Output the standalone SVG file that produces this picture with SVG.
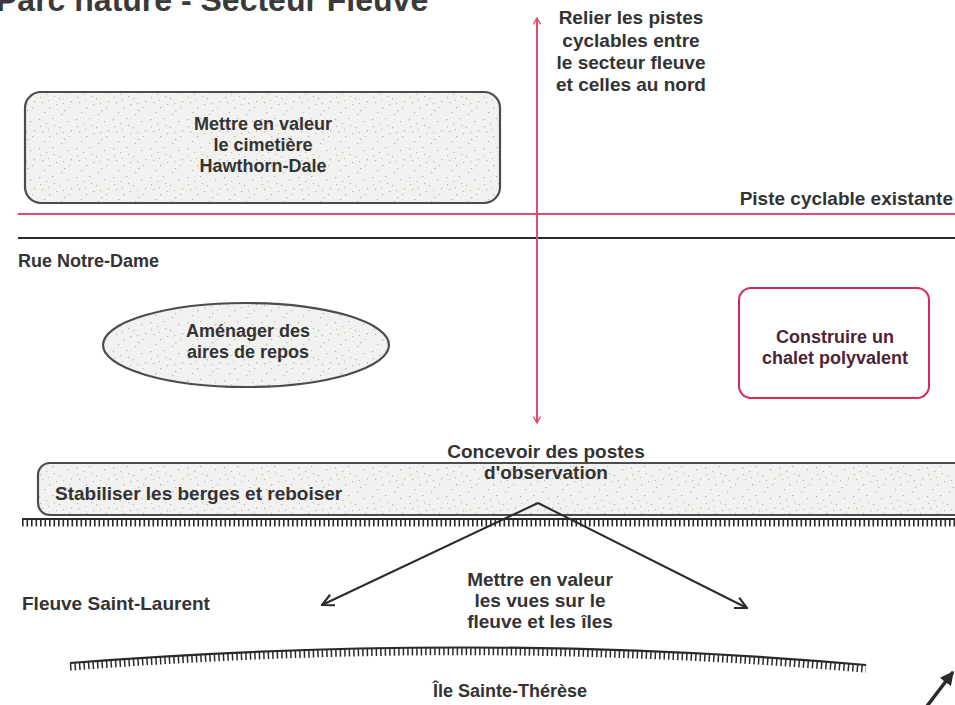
<svg xmlns="http://www.w3.org/2000/svg" width="955" height="705" viewBox="0 0 955 705">
<style>
text{font-family:"Liberation Sans",Arial,sans-serif;font-weight:bold;fill:#333;}
.t18{font-size:18px;}
.t19{font-size:19px;}
.mid{text-anchor:middle;}
.box{fill:url(#speck);stroke:#4a4d4a;stroke-width:2.2;}
.red{stroke:#e64a6e;stroke-width:2;fill:none;}
.blk{stroke:#2a2a2a;fill:none;}
</style>
<defs>
<pattern id="speck" width="37" height="29" patternUnits="userSpaceOnUse">
<rect width="37" height="29" fill="#f1f1ef"/>
<g fill="#b8b8b4">
<rect x="2" y="3" width="1.3" height="1.3"/><rect x="9" y="7" width="1.2" height="1"/><rect x="15" y="2" width="1.4" height="1.1"/>
<rect x="22" y="11" width="1.1" height="1.3"/><rect x="30" y="5" width="1.3" height="1.1"/><rect x="5" y="15" width="1.2" height="1.2"/>
<rect x="12" y="20" width="1.3" height="1.3"/><rect x="19" y="17" width="1.2" height="1.1"/><rect x="27" y="23" width="1.4" height="1.1"/>
<rect x="34" y="14" width="1.1" height="1.4"/><rect x="7" y="25" width="1.3" height="1.1"/><rect x="24" y="27" width="1.2" height="1.1"/>
<rect x="32" y="20" width="1.1" height="1.1"/><rect x="17" y="9" width="1.1" height="1.1"/><rect x="3" y="10" width="1.1" height="1.1"/>
<rect x="26" y="16" width="1.1" height="1.1"/><rect x="11" y="13" width="1" height="1"/>
</g>
</pattern>
<marker id="redHead" viewBox="0 0 10 10" refX="9" refY="5" markerWidth="8" markerHeight="8" markerUnits="userSpaceOnUse" orient="auto-start-reverse">
<path d="M1,0.5 L9,5 L1,9.5" fill="none" stroke="#e64a6e" stroke-width="1.6"/>
</marker>
<marker id="blkHead" viewBox="0 0 12 12" refX="11" refY="6" markerWidth="14" markerHeight="14" markerUnits="userSpaceOnUse" orient="auto">
<path d="M1,1 L11,6 L1,11" fill="none" stroke="#2a2a2a" stroke-width="1.8"/>
</marker>
<marker id="northHead" viewBox="0 0 10 10" refX="9" refY="5" markerWidth="14" markerHeight="14" markerUnits="userSpaceOnUse" orient="auto">
<path d="M0,0 L10,5 L0,10 Z" fill="#2a2a2a"/>
</marker>
</defs>
<rect width="955" height="705" fill="#ffffff"/>

<g id="title">
<text x="-4" y="11" style="font-size:32px;fill:#3a3a3a;">Parc nature - Secteur Fleuve</text>
</g>

<g id="map-lines">
<line x1="18" y1="214" x2="955" y2="214" class="red"/>
<line x1="18" y1="238" x2="955" y2="238" class="blk" stroke-width="2"/>
<path d="M22,519 H955" class="blk" stroke-width="2.2"/>
<path d="M22,523 H955" class="blk" stroke-width="7" stroke-dasharray="1.6 2.9"/>
<path d="M70,663 Q478,631 866,665" class="blk" stroke-width="2.2"/>
<path d="M70,667 Q478,635 866,669" class="blk" stroke-width="7.5" stroke-dasharray="1.5 3"/>
</g>

<g id="labels">
<text x="953" y="205" class="t19" text-anchor="end">Piste cyclable existante</text>
<text x="18" y="267" class="t18">Rue Notre-Dame</text>
<text x="22" y="610" class="t19">Fleuve Saint-Laurent</text>
<text x="510" y="697" class="t18 mid">Île Sainte-Thérèse</text>
</g>

<g id="node-cimetiere">
<rect x="25" y="92" width="475" height="111" rx="16" class="box"/>
<text x="263" y="130" class="t18 mid">Mettre en valeur</text>
<text x="263" y="151" class="t18 mid">le cimetière</text>
<text x="263" y="172" class="t18 mid">Hawthorn-Dale</text>
</g>

<g id="node-pistes">
<text x="631" y="24" class="t19 mid">Relier les pistes</text>
<text x="631" y="47" class="t19 mid">cyclables entre</text>
<text x="631" y="69" class="t19 mid">le secteur fleuve</text>
<text x="631" y="91" class="t19 mid">et celles au nord</text>
</g>

<g id="node-repos">
<ellipse cx="246" cy="345" rx="143" ry="42" class="box"/>
<text x="248" y="337" class="t18 mid">Aménager des</text>
<text x="248" y="358" class="t18 mid">aires de repos</text>
</g>

<g id="node-chalet">
<rect x="739" y="288" width="190" height="110" rx="12" fill="#ffffff" stroke="#d8285a" stroke-width="2"/>
<text x="835" y="343" class="t18 mid" style="fill:#4b2535;">Construire un</text>
<text x="835" y="364" class="t18 mid" style="fill:#4b2535;">chalet polyvalent</text>
</g>

<g id="node-berges">
<rect x="38" y="463" width="950" height="52" rx="12" class="box"/>
<text x="55" y="500" class="t19">Stabiliser les berges et reboiser</text>
</g>

<g id="node-observation">
<text x="546" y="458" class="t19 mid">Concevoir des postes</text>
<text x="546" y="479" class="t19 mid">d'observation</text>
</g>

<g id="node-vues">
<text x="540" y="586" class="t19 mid">Mettre en valeur</text>
<text x="540" y="607" class="t19 mid">les vues sur le</text>
<text x="540" y="628" class="t19 mid">fleuve et les îles</text>
</g>

<g id="connectors">
<line x1="537" y1="18" x2="537" y2="423" class="red" marker-start="url(#redHead)" marker-end="url(#redHead)"/>
<line x1="538" y1="503" x2="322" y2="605" class="blk" stroke-width="2" marker-end="url(#blkHead)"/>
<line x1="538" y1="503" x2="747" y2="608" class="blk" stroke-width="2" marker-end="url(#blkHead)"/>
<line x1="927" y1="706" x2="953" y2="672" class="blk" stroke-width="3.5" marker-end="url(#northHead)"/>
</g>
</svg>
